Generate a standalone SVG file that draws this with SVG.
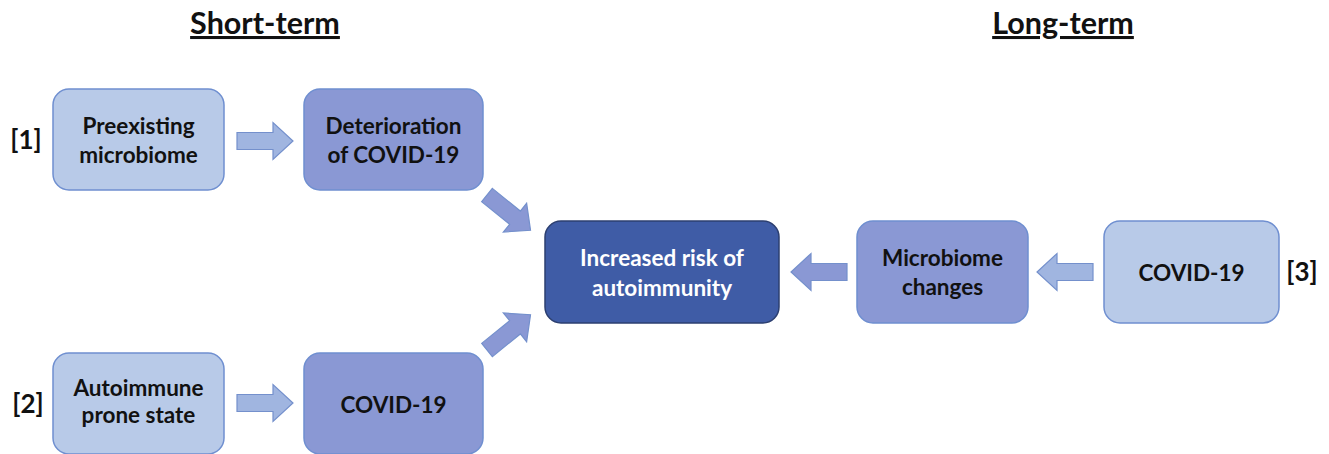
<svg xmlns="http://www.w3.org/2000/svg" width="1329" height="454" viewBox="0 0 1329 454">
<style>
.t{font-family:Lato,"Open Sans","Liberation Sans",sans-serif;font-weight:bold;font-size:22.5px;fill:#111;text-anchor:middle}
.w{fill:#fff}
.h{font-size:30.5px;text-decoration:underline}
.lbl{font-size:26px;text-anchor:middle}
.light{fill:#b8cae8;stroke:#6f8fd0;stroke-width:1.5}
.mid{fill:#8a98d4;stroke:#6f8fd0;stroke-width:1.5}
.dark{fill:#3f5ca6;stroke:#2c3f70;stroke-width:1.5}
.al{fill:#a0b5e0;stroke:#7490cc;stroke-width:1.2}
.ad{fill:#8a98d4;stroke:#7490cc;stroke-width:1.2}
</style>
<defs>
<path id="arr" d="M0,-8.5 H36 V-18.5 L56,0 L36,18.5 V8.5 H0 Z"/>
</defs>
<rect width="1329" height="454" fill="#fff"/>
<text class="t h" x="265" y="34">Short-term</text>
<text class="t h" x="1063" y="34">Long-term</text>
<text class="t lbl" x="26" y="149">[1]</text>
<text class="t lbl" x="28" y="413">[2]</text>
<text class="t lbl" x="1302" y="281">[3]</text>
<g id="n1"><rect class="light" x="53" y="89" width="171" height="101" rx="16"/><text class="t" x="138.5" y="134">Preexisting</text><text class="t" x="138.5" y="163">microbiome</text></g>
<g id="n2"><rect class="mid" x="304" y="89" width="179" height="101" rx="16"/><text class="t" x="393.5" y="134">Deterioration</text><text class="t" x="393.5" y="163">of COVID-19</text></g>
<g id="n3"><rect class="dark" x="545" y="221" width="234" height="102" rx="16"/><text class="t w" x="662" y="266">Increased risk of</text><text class="t w" x="662" y="296">autoimmunity</text></g>
<g id="n4"><rect class="mid" x="857" y="221" width="171" height="102" rx="16"/><text class="t" x="942.5" y="266">Microbiome</text><text class="t" x="942.5" y="295">changes</text></g>
<g id="n5"><rect class="light" x="1104" y="221" width="175" height="102" rx="16"/><text class="t" x="1191.5" y="281">COVID-19</text></g>
<g id="n6"><rect class="light" x="53" y="353" width="171" height="101" rx="16"/><text class="t" x="138.5" y="396">Autoimmune</text><text class="t" x="138.5" y="423">prone state</text></g>
<g id="n7"><rect class="mid" x="304" y="353" width="179" height="101" rx="16"/><text class="t" x="393.5" y="413">COVID-19</text></g>
<g id="connectors">
<use href="#arr" class="al" transform="translate(237,141)"/>
<use href="#arr" class="al" transform="translate(237,403)"/>
<use href="#arr" class="ad" transform="translate(487,195) rotate(39)"/>
<use href="#arr" class="ad" transform="translate(487,350) rotate(-39)"/>
<use href="#arr" class="ad" transform="translate(847,272) rotate(180)"/>
<use href="#arr" class="al" transform="translate(1093,272) rotate(180)"/>
</g>
</svg>
